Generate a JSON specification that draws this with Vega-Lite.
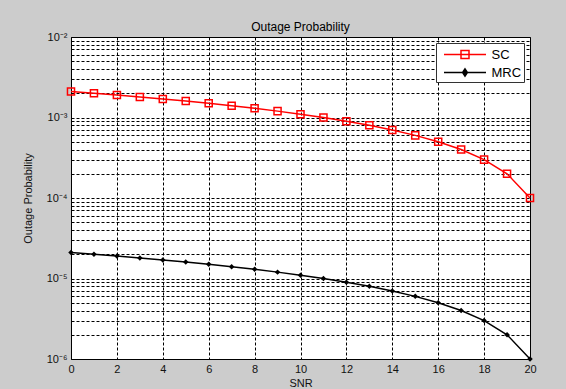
{
  "$schema": "https://vega.github.io/schema/vega-lite/v6.json",
  "width": 459,
  "height": 322,
  "autosize": {"type": "none"},
  "padding": {"left": 71, "top": 37, "right": 36, "bottom": 30},
  "background": "#cccccc",
  "title": {"text": "Outage Probability", "fontSize": 12, "font": "Liberation Sans", "fontWeight": "normal", "color": "#000", "offset": -3},
  "config": {
    "font": "Liberation Sans",
    "view": {"stroke": "#000", "strokeWidth": 1, "fill": "white"},
    "axis": {
      "grid": true, "gridColor": "#000", "gridOpacity": 1, "gridDash": [3, 2], "gridWidth": 1,
      "ticks": false, "domain": false,
      "labelFont": "Liberation Sans", "labelFontSize": 11, "labelColor": "#111",
      "titleFont": "Liberation Sans", "titleFontSize": 11, "titleFontWeight": "normal", "titleColor": "#111"
    }
  },
  "data": {"values": [
    {"snr": 0, "p": 2.1e-3, "scheme": "SC"},
    {"snr": 1, "p": 2.0e-3, "scheme": "SC"},
    {"snr": 2, "p": 1.9e-3, "scheme": "SC"},
    {"snr": 3, "p": 1.8e-3, "scheme": "SC"},
    {"snr": 4, "p": 1.7e-3, "scheme": "SC"},
    {"snr": 5, "p": 1.6e-3, "scheme": "SC"},
    {"snr": 6, "p": 1.5e-3, "scheme": "SC"},
    {"snr": 7, "p": 1.4e-3, "scheme": "SC"},
    {"snr": 8, "p": 1.3e-3, "scheme": "SC"},
    {"snr": 9, "p": 1.2e-3, "scheme": "SC"},
    {"snr": 10, "p": 1.1e-3, "scheme": "SC"},
    {"snr": 11, "p": 1.0e-3, "scheme": "SC"},
    {"snr": 12, "p": 9e-4, "scheme": "SC"},
    {"snr": 13, "p": 8e-4, "scheme": "SC"},
    {"snr": 14, "p": 7e-4, "scheme": "SC"},
    {"snr": 15, "p": 6e-4, "scheme": "SC"},
    {"snr": 16, "p": 5e-4, "scheme": "SC"},
    {"snr": 17, "p": 4e-4, "scheme": "SC"},
    {"snr": 18, "p": 3e-4, "scheme": "SC"},
    {"snr": 19, "p": 2e-4, "scheme": "SC"},
    {"snr": 20, "p": 1e-4, "scheme": "SC"},
    {"snr": 0, "p": 2.1e-5, "scheme": "MRC"},
    {"snr": 1, "p": 2.0e-5, "scheme": "MRC"},
    {"snr": 2, "p": 1.9e-5, "scheme": "MRC"},
    {"snr": 3, "p": 1.8e-5, "scheme": "MRC"},
    {"snr": 4, "p": 1.7e-5, "scheme": "MRC"},
    {"snr": 5, "p": 1.6e-5, "scheme": "MRC"},
    {"snr": 6, "p": 1.5e-5, "scheme": "MRC"},
    {"snr": 7, "p": 1.4e-5, "scheme": "MRC"},
    {"snr": 8, "p": 1.3e-5, "scheme": "MRC"},
    {"snr": 9, "p": 1.2e-5, "scheme": "MRC"},
    {"snr": 10, "p": 1.1e-5, "scheme": "MRC"},
    {"snr": 11, "p": 1.0e-5, "scheme": "MRC"},
    {"snr": 12, "p": 9e-6, "scheme": "MRC"},
    {"snr": 13, "p": 8e-6, "scheme": "MRC"},
    {"snr": 14, "p": 7e-6, "scheme": "MRC"},
    {"snr": 15, "p": 6e-6, "scheme": "MRC"},
    {"snr": 16, "p": 5e-6, "scheme": "MRC"},
    {"snr": 17, "p": 4e-6, "scheme": "MRC"},
    {"snr": 18, "p": 3e-6, "scheme": "MRC"},
    {"snr": 19, "p": 2e-6, "scheme": "MRC"},
    {"snr": 20, "p": 1e-6, "scheme": "MRC"}
  ]},
  "encoding": {
    "x": {"field": "snr", "type": "quantitative", "title": "SNR",
      "scale": {"domain": [0, 20], "nice": false},
      "axis": {"values": [0, 2, 4, 6, 8, 10, 12, 14, 16, 18, 20], "labelPadding": 4, "titlePadding": 3, "labelFlush": false}},
    "y": {"field": "p", "type": "quantitative", "title": "Outage Probability",
      "scale": {"type": "log", "domain": [1e-6, 1e-2], "nice": false},
      "axis": {
        "values": [1e-6, 2e-6, 3e-6, 4e-6, 5e-6, 6e-6, 7e-6, 8e-6, 9e-6,
                   1e-5, 2e-5, 3e-5, 4e-5, 5e-5, 6e-5, 7e-5, 8e-5, 9e-5,
                   1e-4, 2e-4, 3e-4, 4e-4, 5e-4, 6e-4, 7e-4, 8e-4, 9e-4,
                   1e-3, 2e-3, 3e-3, 4e-3, 5e-3, 6e-3, 7e-3, 8e-3, 9e-3, 1e-2],
        "labelExpr": "abs(log(datum.value)/LN10 - round(log(datum.value)/LN10)) > 0.001 ? '' : ['10⁻⁶','10⁻⁵','10⁻⁴','10⁻³','10⁻²'][round(log(datum.value)/LN10) + 6]",
        "labelPadding": 4, "titlePadding": 13, "labelFlush": false, "labelOverlap": false
      }}
  },
  "layer": [
    {
      "mark": {"type": "line", "strokeWidth": 1.5},
      "encoding": {
        "color": {"field": "scheme", "type": "nominal",
          "scale": {"domain": ["SC", "MRC"], "range": ["#ff0000", "#000000"]},
          "legend": {
            "title": null, "orient": "top-right", "offset": 6,
            "fillColor": "white", "strokeColor": "#333",
            "padding": 2.5, "rowPadding": 2,
            "labelFont": "Liberation Sans", "labelFontSize": 13, "labelColor": "#000", "labelAlign": "left",
            "labelExpr": "datum.label + '\u00a0'",
            "symbolSize": 256, "symbolStrokeWidth": 1.5, "symbolOffset": 0, "labelOffset": 35,
            "encode": {
              "symbols": {"update": {
                "shape": {"signal": "datum.value == 'SC' ? 'M-0.4375,0H4.8125M1.6875,-0.5H2.6875V0.5H1.6875Z' : 'M-0.4375,0H4.8125M2.1875,-0.45L2.4875,0L2.1875,0.45L1.8875,0Z'"},
                "fill": {"signal": "datum.value == 'SC' ? 'transparent' : '#000'"},
                "strokeWidth": {"value": 1.5}
              }}
            }
          }}
      }
    },
    {
      "transform": [{"filter": "datum.scheme == 'SC'"}],
      "mark": {"type": "point", "shape": "square", "filled": false, "color": "#ff0000", "size": 50, "strokeWidth": 1.5, "opacity": 1}
    },
    {
      "transform": [{"filter": "datum.scheme == 'MRC'"}],
      "mark": {"type": "point", "shape": "diamond", "filled": true, "color": "#000000", "size": 30, "opacity": 1}
    }
  ]
}
